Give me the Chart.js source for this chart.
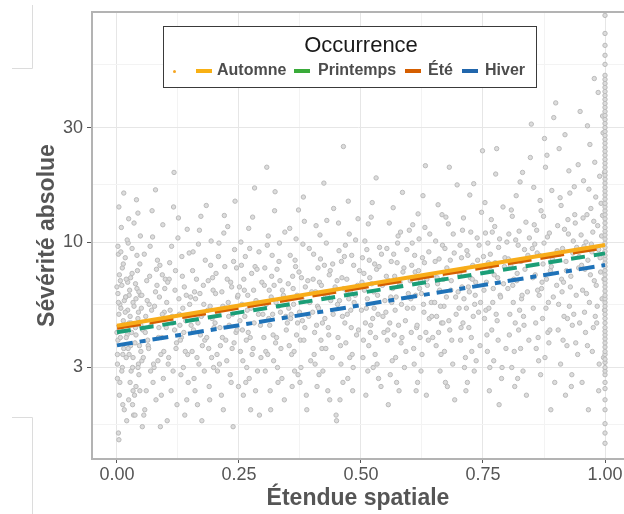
<!DOCTYPE html>
<html>
<head>
<meta charset="utf-8">
<script src="https://cdn.jsdelivr.net/npm/chart.js@4.4.1/dist/chart.umd.min.js"></script>
<style>
  html, body { margin: 0; padding: 0; background: #fff; }
  #wrap { position: relative; width: 624px; height: 514px; overflow: hidden; font-family: "Liberation Sans", Arial, sans-serif; }
  #graphe { position: absolute; left: 0; top: 0; }
  .legende { position: absolute; left: 163px; top: 26px; width: 372px; height: 60px; border: 1.5px solid #3a3a3a; background: #fff; }
  .legende .titre { position: absolute; left: 0; width: 394px; top: 5px; text-align: center; font-size: 22px; color: #1a1a1a; }
  .legende .cle { position: absolute; top: 42px; width: 16px; height: 4px; }
  .legende .nom { position: absolute; top: 34px; font-size: 16px; font-weight: bold; color: #4d4d4d; white-space: nowrap; }
  .legende .point { position: absolute; left: 9px; top: 43px; width: 3px; height: 3px; border-radius: 50%; background: #f5a623; }
</style>
</head>
<body>
<div id="wrap">
  <canvas id="graphe" width="624" height="514"></canvas>
  <div class="legende" id="legende">
    <div class="titre">Occurrence</div>
    <div class="point"></div>
  </div>
</div>
<script>
// --- DONNÉES ---
const saisons = ['Automne', 'Été', 'Printemps', 'Hiver'];
const severiteDebut = [4.48, 4.41, 4.21, 3.71];   // à étendue = 0
const severiteFin = [9.72, 9.55, 8.97, 8.02];     // à étendue = 1
const couleursLignes = ['#f8ad1a', '#d55e00', '#1b9e77', '#1f72b8'];
const couleursLegende = ['#f8b014', '#d55e00', '#3aab3a', '#2166ac'];

const ticksMajeursX = [0, 0.25, 0.5, 0.75, 1];
const ticksMineursX = [0.125, 0.375, 0.625, 0.875];
const ticksMajeursY = [3, 10, 30];
const ticksMineursY = [1.73, 5.48, 17.3, 54.8];

// nuage de points (étendue, sévérité)
const pointsNuage = [
  [0.000,4.2],[0.002,6.1],[0.001,3.1],[0.003,1.6],[0.008,5.3],[0.011,7.8],[0.006,2.6],[0.013,4.7],[0.009,11.5],[0.014,3.6],
  [0.018,5.9],[0.021,4.1],[0.017,8.6],[0.024,2.2],[0.022,6.8],[0.019,3.3],[0.027,4.9],[0.031,9.4],[0.029,2.9],[0.033,5.6],
  [0.028,7.1],[0.034,1.9],[0.038,4.4],[0.041,6.4],[0.037,3.8],[0.043,13.2],[0.039,2.5],[0.044,5.1],[0.047,8.1],[0.049,3.5],
  [0.046,4.6],[0.048,6.0],[0.045,2.8],[0.004,5.0],[0.005,7.3],[0.002,3.9],[0.012,2.1],[0.010,6.6],[0.023,9.9],[0.016,4.5],
  [0.032,3.0],[0.026,6.3],[0.042,7.6],[0.036,2.3],[0.050,5.3],[0.048,10.6],[0.001,2.7],[0.007,4.0],[0.020,1.8],[0.030,4.2],
  [0.040,15.0],[0.051,3.2],[0.003,8.9],[0.015,5.7],[0.025,3.4],[0.035,12.0],[0.043,4.8],[0.052,1.7],[0.019,7.0],[0.033,2.4],
  [0.006,5.5],[0.012,3.4],[0.022,5.2],[0.028,3.7],[0.039,5.8],[0.004,1.5],[0.014,16.0],[0.025,4.6],[0.044,3.1],[0.008,9.1],
  [0.001,3.4],[0.003,5.6],[0.005,2.3],[0.007,6.9],[0.009,4.4],[0.011,3.0],[0.013,8.1],[0.015,2.0],[0.017,5.1],[0.019,4.0],
  [0.021,10.2],[0.023,3.6],[0.025,6.0],[0.027,2.6],[0.029,4.6],[0.031,7.4],[0.033,3.3],[0.035,5.4],[0.037,1.9],[0.039,4.1],
  [0.041,8.8],[0.043,3.0],[0.045,6.2],[0.047,2.4],[0.049,4.5],[0.000,6.5],[0.002,9.6],[0.006,4.3],[0.010,2.9],[0.018,5.9],
  [0.024,12.5],[0.032,2.1],[0.038,6.7],[0.046,3.7],[0.004,14.0],
  [0.053,4.3],[0.057,2.0],[0.061,6.9],[0.064,3.7],[0.068,9.6],[0.071,5.2],[0.074,2.6],[0.078,4.7],[0.081,7.7],[0.084,3.2],
  [0.087,5.9],[0.089,1.7],[0.092,4.0],[0.094,11.8],[0.096,3.5],[0.098,6.4],[0.066,5.5],[0.076,3.0],[0.083,8.4],[0.091,2.3],
  [0.059,4.9],[0.097,5.1],[0.072,13.5],[0.086,4.4],[0.063,3.9],[0.079,6.2],[0.093,7.3],[0.069,2.9],
  [0.051,6.0],[0.054,3.3],[0.056,8.9],[0.058,4.2],[0.060,2.4],[0.062,5.7],[0.065,3.6],[0.067,7.2],[0.070,4.5],[0.073,10.5],
  [0.075,3.1],[0.077,5.4],[0.080,2.2],[0.082,6.6],[0.085,4.0],[0.088,8.0],[0.090,3.4],[0.093,5.0],[0.095,2.7],[0.099,7.0],
  [0.055,1.9],[0.079,16.5],
  [0.102,5.6],[0.105,3.1],[0.108,8.2],[0.111,2.4],[0.114,4.6],[0.117,19.5],[0.119,6.3],[0.122,3.8],[0.125,10.4],[0.128,5.0],
  [0.131,2.8],[0.134,7.2],[0.137,4.2],[0.139,1.9],[0.142,6.0],[0.145,3.4],[0.148,9.0],[0.113,4.9],[0.126,12.6],[0.135,5.3],
  [0.143,2.2],[0.107,7.0],[0.121,3.6],[0.132,4.0],
  [0.101,4.4],[0.104,6.8],[0.106,3.3],[0.109,5.2],[0.112,9.6],[0.115,2.9],[0.118,4.3],[0.120,7.6],[0.123,2.1],[0.127,5.8],
  [0.130,3.9],[0.133,8.7],[0.136,3.0],[0.138,6.5],[0.141,4.7],[0.144,11.3],[0.146,2.6],[0.149,5.5],[0.103,1.8],[0.116,14.0],
  [0.129,4.5],[0.140,3.5],
  [0.152,4.5],[0.155,7.6],[0.158,2.7],[0.161,5.8],[0.164,3.3],[0.167,9.8],[0.171,4.1],[0.174,1.8],[0.177,6.6],[0.180,3.9],
  [0.183,14.2],[0.186,5.2],[0.189,2.5],[0.192,8.0],[0.195,4.8],[0.198,3.0],[0.159,6.2],[0.169,11.2],[0.178,5.5],[0.188,3.6],
  [0.196,7.1],[0.165,2.1],[0.173,4.9],
  [0.151,5.9],[0.154,3.5],[0.156,9.1],[0.157,4.3],[0.160,2.4],[0.163,7.0],[0.166,4.6],[0.168,3.1],[0.170,6.1],[0.172,12.8],
  [0.175,3.7],[0.176,5.0],[0.179,2.9],[0.181,8.4],[0.184,4.0],[0.187,6.9],[0.190,2.2],[0.191,5.4],[0.193,10.1],[0.194,3.3],
  [0.197,6.3],[0.199,4.4],
  [0.202,6.1],[0.205,3.4],[0.208,8.7],[0.211,4.4],[0.214,2.3],[0.217,5.4],[0.220,12.9],[0.223,3.9],[0.226,7.0],[0.229,4.9],
  [0.232,2.8],[0.235,6.5],[0.238,1.7],[0.241,9.3],[0.244,4.2],[0.247,5.9],[0.210,3.1],[0.219,10.9],[0.228,5.6],[0.236,3.6],
  [0.245,7.8],[0.249,2.5],
  [0.201,4.6],[0.203,7.4],[0.206,2.9],[0.207,5.1],[0.209,9.9],[0.212,3.7],[0.215,6.2],[0.216,4.0],[0.218,2.0],[0.221,7.9],
  [0.224,5.3],[0.225,3.2],[0.227,11.6],[0.230,4.5],[0.233,6.8],[0.234,2.6],[0.237,5.0],[0.239,8.3],[0.240,3.8],[0.242,14.8],
  [0.246,4.3],[0.248,6.0],
  [0.252,4.7],[0.255,8.0],[0.258,3.2],[0.261,6.3],[0.264,2.6],[0.267,5.2],[0.270,11.4],[0.273,4.0],[0.276,7.4],[0.279,3.6],
  [0.282,16.8],[0.285,5.7],[0.288,2.9],[0.291,9.1],[0.294,4.5],[0.297,6.8],[0.256,5.5],[0.265,3.9],[0.274,2.0],[0.283,7.9],
  [0.292,1.9],[0.299,5.0],
  [0.251,6.5],[0.253,3.5],[0.254,10.0],[0.257,4.3],[0.259,2.3],[0.260,7.0],[0.262,4.9],[0.263,8.7],[0.266,3.0],[0.268,6.0],
  [0.269,4.2],[0.271,2.7],[0.272,9.4],[0.275,5.3],[0.277,3.4],[0.278,12.7],[0.280,6.3],[0.281,4.6],[0.284,2.4],[0.287,7.7],
  [0.290,5.0],[0.295,3.3],
  [0.302,6.6],[0.305,3.5],[0.308,9.7],[0.311,4.8],[0.314,2.4],[0.317,7.2],[0.320,4.1],[0.323,13.5],[0.326,5.6],[0.329,3.0],
  [0.332,8.3],[0.335,5.1],[0.338,2.7],[0.341,6.0],[0.344,11.0],[0.347,4.3],[0.307,20.5],[0.316,5.9],[0.325,3.8],[0.334,6.9],
  [0.343,2.2],[0.349,4.6],
  [0.301,4.0],[0.303,7.8],[0.304,2.9],[0.306,5.5],[0.309,3.4],[0.310,10.6],[0.312,6.3],[0.313,4.5],[0.315,2.0],[0.318,8.8],
  [0.319,5.0],[0.321,3.2],[0.322,6.6],[0.324,16.2],[0.327,4.0],[0.328,7.7],[0.330,2.6],[0.331,5.4],[0.333,9.9],[0.336,3.6],
  [0.339,6.3],[0.346,4.9],
  [0.352,5.3],[0.355,8.8],[0.358,3.4],[0.361,6.4],[0.364,2.9],[0.367,10.3],[0.370,4.6],[0.373,7.5],[0.376,3.9],[0.379,5.8],
  [0.382,15.4],[0.385,4.4],[0.388,2.3],[0.391,6.9],[0.394,9.4],[0.397,3.2],[0.357,5.0],[0.366,7.9],[0.375,2.6],[0.384,12.2],
  [0.393,4.9],[0.399,6.2],
  [0.351,6.7],[0.353,3.7],[0.354,11.4],[0.356,4.8],[0.359,2.5],[0.360,7.2],[0.362,5.5],[0.363,3.5],[0.365,8.4],[0.368,4.1],
  [0.369,6.0],[0.371,2.8],[0.372,13.6],[0.374,5.1],[0.377,3.0],[0.378,7.1],[0.380,4.7],[0.381,9.8],[0.383,3.9],[0.386,6.5],
  [0.389,2.0],[0.395,5.6],
  [0.402,7.0],[0.405,4.2],[0.408,11.7],[0.411,5.4],[0.414,2.8],[0.417,8.5],[0.420,3.6],[0.423,6.1],[0.426,4.8],[0.429,9.9],
  [0.432,2.4],[0.435,7.3],[0.438,5.7],[0.441,3.3],[0.444,13.8],[0.447,6.5],[0.406,3.1],[0.415,6.8],[0.424,17.6],[0.433,4.4],
  [0.442,8.1],[0.449,1.9],
  [0.401,5.1],[0.403,8.9],[0.404,3.4],[0.407,6.2],[0.409,4.5],[0.410,2.5],[0.412,7.8],[0.413,5.3],[0.416,10.7],[0.418,3.9],
  [0.419,6.6],[0.421,4.6],[0.422,2.9],[0.425,8.0],[0.427,5.9],[0.428,3.6],[0.430,12.3],[0.431,6.0],[0.434,4.1],[0.436,2.2],
  [0.437,7.6],[0.443,5.0],
  [0.452,5.5],[0.455,9.2],[0.458,3.7],[0.461,7.1],[0.464,25.0],[0.467,4.6],[0.470,6.3],[0.473,2.7],[0.476,10.8],[0.479,5.2],
  [0.482,3.4],[0.485,8.0],[0.488,6.0],[0.491,4.1],[0.494,12.5],[0.497,7.6],[0.457,2.2],[0.466,8.7],[0.475,5.8],[0.484,3.0],
  [0.493,6.6],[0.450,1.8],
  [0.451,6.9],[0.453,4.0],[0.454,12.0],[0.456,5.7],[0.459,3.1],[0.460,8.3],[0.462,4.9],[0.463,2.6],[0.465,6.4],[0.468,9.7],
  [0.469,3.8],[0.471,7.0],[0.472,5.0],[0.474,14.8],[0.477,3.3],[0.478,6.2],[0.480,4.4],[0.481,8.8],[0.483,2.4],[0.486,5.6],
  [0.489,10.2],[0.495,4.3],
  [0.502,6.8],[0.505,3.9],[0.508,10.1],[0.511,5.3],[0.514,2.9],[0.517,8.4],[0.520,4.5],[0.523,14.6],[0.526,6.2],[0.529,3.4],
  [0.532,7.7],[0.535,5.0],[0.538,9.5],[0.541,2.5],[0.544,6.6],[0.547,4.2],[0.506,7.4],[0.515,11.9],[0.524,4.8],[0.533,3.1],
  [0.542,8.9],[0.549,5.7],
  [0.501,5.2],[0.503,8.6],[0.504,3.3],[0.507,6.3],[0.509,4.6],[0.510,2.3],[0.512,9.3],[0.513,5.8],[0.516,3.7],[0.518,7.1],
  [0.519,4.2],[0.521,12.7],[0.522,6.7],[0.525,3.0],[0.527,5.3],[0.528,8.1],[0.530,4.0],[0.531,18.5],[0.534,6.0],[0.536,2.7],
  [0.537,7.9],[0.545,4.9],
  [0.552,7.2],[0.555,4.3],[0.558,12.0],[0.561,5.9],[0.564,3.2],[0.567,8.9],[0.570,5.2],[0.573,2.6],[0.576,10.6],[0.579,6.7],
  [0.582,3.8],[0.585,16.1],[0.588,7.8],[0.591,4.7],[0.594,9.3],[0.597,6.1],[0.556,2.1],[0.565,6.4],[0.574,8.2],[0.583,5.5],
  [0.592,3.5],[0.599,11.2],
  [0.551,5.1],[0.553,9.4],[0.554,3.9],[0.557,6.9],[0.559,4.6],[0.560,2.8],[0.562,8.3],[0.563,5.6],[0.566,13.9],[0.568,4.1],
  [0.569,7.2],[0.571,3.3],[0.572,5.9],[0.575,9.9],[0.577,4.5],[0.578,2.4],[0.580,6.8],[0.581,11.0],[0.584,4.0],[0.586,7.5],
  [0.589,3.0],[0.595,5.3],
  [0.602,5.8],[0.605,9.9],[0.608,3.6],[0.611,7.5],[0.614,4.4],[0.617,13.1],[0.620,6.4],[0.623,2.9],[0.626,8.6],[0.629,5.1],
  [0.632,20.8],[0.635,7.0],[0.638,3.9],[0.641,10.8],[0.644,5.6],[0.647,4.0],[0.604,8.0],[0.613,2.4],[0.622,6.9],[0.631,11.5],
  [0.640,4.8],[0.649,7.3],
  [0.601,6.9],[0.603,4.2],[0.606,11.8],[0.607,5.3],[0.609,3.1],[0.610,8.8],[0.612,6.0],[0.615,4.5],[0.616,2.6],[0.618,7.6],
  [0.619,10.3],[0.621,4.0],[0.624,6.1],[0.625,3.4],[0.627,15.6],[0.628,5.5],[0.630,8.2],[0.633,4.2],[0.634,2.3],[0.636,6.6],
  [0.639,9.1],[0.645,4.9],
  [0.652,8.3],[0.655,4.9],[0.658,14.3],[0.661,6.3],[0.664,3.4],[0.667,9.7],[0.670,5.4],[0.673,2.6],[0.676,7.8],[0.679,11.9],
  [0.682,4.3],[0.685,6.9],[0.688,3.1],[0.691,9.0],[0.694,5.9],[0.697,17.3],[0.656,7.1],[0.665,4.6],[0.674,12.7],[0.683,8.4],
  [0.692,2.2],[0.699,6.2],
  [0.651,5.6],[0.653,10.1],[0.654,3.7],[0.657,6.7],[0.659,4.2],[0.660,8.5],[0.662,2.9],[0.663,5.4],[0.666,13.0],[0.668,4.6],
  [0.669,7.0],[0.671,3.5],[0.672,9.4],[0.675,5.9],[0.677,2.5],[0.678,7.5],[0.680,4.7],[0.681,20.5],[0.684,6.3],[0.686,3.9],
  [0.689,10.8],[0.695,5.0],
  [0.702,7.4],[0.705,4.4],[0.708,11.2],[0.711,5.8],[0.714,3.3],[0.717,9.2],[0.720,6.5],[0.723,15.7],[0.726,4.0],[0.729,8.0],
  [0.732,2.9],[0.735,6.8],[0.738,10.4],[0.741,5.1],[0.744,3.7],[0.747,13.3],[0.706,8.6],[0.715,2.4],[0.724,7.1],[0.733,5.5],
  [0.742,9.7],[0.749,24.0],
  [0.701,5.3],[0.703,9.7],[0.704,3.9],[0.707,6.5],[0.709,4.6],[0.710,12.6],[0.712,3.0],[0.713,7.7],[0.716,5.3],[0.718,2.6],
  [0.719,8.8],[0.721,4.4],[0.722,6.2],[0.725,11.0],[0.727,3.5],[0.728,7.0],[0.730,4.9],[0.731,17.5],[0.734,6.0],[0.736,3.2],
  [0.739,8.4],[0.745,5.6],
  [0.752,6.3],[0.755,10.9],[0.758,4.1],[0.761,8.2],[0.764,3.0],[0.767,12.4],[0.770,5.6],[0.773,7.3],[0.776,19.2],[0.779,4.7],
  [0.782,9.5],[0.785,6.0],[0.788,2.7],[0.791,14.0],[0.794,7.9],[0.797,3.6],[0.756,5.2],[0.765,8.9],[0.774,11.6],[0.783,2.1],
  [0.792,6.7],[0.799,10.0],
  [0.751,8.7],[0.753,4.8],[0.754,14.6],[0.757,6.8],[0.759,3.5],[0.760,9.9],[0.762,5.3],[0.763,2.4],[0.766,7.6],[0.768,4.3],
  [0.769,11.0],[0.771,6.4],[0.772,3.2],[0.775,8.2],[0.777,5.0],[0.778,24.5],[0.780,7.1],[0.781,3.9],[0.784,10.3],[0.786,5.9],
  [0.789,3.0],[0.795,8.6],
  [0.802,8.5],[0.805,5.0],[0.808,13.6],[0.811,6.6],[0.814,3.5],[0.817,10.2],[0.820,7.4],[0.823,4.3],[0.826,17.8],[0.829,5.8],
  [0.832,2.9],[0.835,9.3],[0.838,12.1],[0.841,6.2],[0.844,3.9],[0.847,22.5],[0.806,7.9],[0.815,2.5],[0.824,11.1],[0.833,4.9],
  [0.842,8.8],[0.849,31.0],
  [0.801,6.4],[0.803,10.8],[0.804,4.1],[0.807,8.0],[0.809,3.0],[0.810,12.8],[0.812,5.6],[0.813,7.0],[0.816,4.6],[0.818,15.6],
  [0.819,6.9],[0.821,2.7],[0.822,9.7],[0.825,5.2],[0.827,3.6],[0.828,8.3],[0.830,6.0],[0.831,19.5],[0.834,4.5],[0.836,7.7],
  [0.839,2.3],[0.845,10.4],
  [0.852,7.1],[0.855,11.8],[0.858,4.6],[0.861,9.0],[0.864,3.2],[0.867,14.9],[0.870,6.4],[0.873,8.1],[0.876,27.0],[0.879,5.3],
  [0.882,10.5],[0.885,3.8],[0.888,7.6],[0.891,16.4],[0.894,5.9],[0.897,2.6],[0.856,9.8],[0.865,6.0],[0.874,12.8],[0.883,4.2],
  [0.892,8.5],[0.899,38.0],[0.878,20.5],[0.889,2.0],
  [0.851,9.4],[0.853,5.3],[0.854,16.9],[0.857,7.3],[0.859,3.6],[0.860,11.2],[0.862,6.3],[0.863,4.0],[0.866,8.8],[0.868,2.8],
  [0.869,13.5],[0.871,6.8],[0.872,4.8],[0.875,9.9],[0.877,3.3],[0.880,7.0],[0.881,23.0],[0.884,5.6],[0.886,10.9],[0.887,4.3],
  [0.890,7.9],[0.895,33.0],
  [0.902,9.2],[0.905,5.5],[0.908,15.3],[0.911,7.0],[0.914,3.9],[0.917,11.3],[0.920,8.3],[0.923,4.8],[0.926,19.8],[0.929,6.5],
  [0.932,2.8],[0.935,10.1],[0.938,13.0],[0.941,6.0],[0.944,3.4],[0.947,8.7],[0.906,24.5],[0.915,6.8],[0.924,12.4],[0.933,4.5],
  [0.942,9.5],[0.949,35.0],[0.919,2.3],[0.937,17.0],
  [0.901,6.6],[0.903,11.7],[0.904,4.3],[0.907,8.9],[0.909,3.1],[0.910,14.2],[0.912,6.2],[0.913,9.4],[0.916,4.9],[0.918,28.0],
  [0.921,7.6],[0.922,3.7],[0.925,10.8],[0.927,5.4],[0.928,16.0],[0.930,7.2],[0.931,2.5],[0.934,9.0],[0.936,5.0],[0.939,12.0],
  [0.940,3.8],[0.945,21.0],[0.946,7.8],[0.948,4.6],
  [0.952,8.0],[0.955,12.6],[0.958,5.1],[0.961,10.0],[0.964,3.7],[0.967,16.6],[0.970,7.3],[0.973,9.1],[0.976,4.4],[0.979,21.5],
  [0.982,6.6],[0.985,11.7],[0.988,3.1],[0.990,8.6],[0.992,14.5],[0.994,5.8],[0.996,28.5],[0.998,7.0],[0.953,2.6],[0.962,6.1],
  [0.971,13.8],[0.980,4.9],[0.989,18.8],[0.957,9.6],[0.966,2.0],[0.975,11.0],[0.984,5.4],[0.993,10.6],[0.997,3.3],[0.986,42.0],
  [0.951,10.7],[0.954,6.3],[0.956,18.0],[0.959,7.7],[0.960,4.2],[0.963,13.0],[0.965,8.4],[0.968,5.6],[0.969,25.5],[0.972,9.8],
  [0.974,3.5],[0.977,12.2],[0.978,6.9],[0.981,15.4],[0.983,4.6],[0.987,9.3],[0.991,7.5],[0.995,12.9],[0.999,5.2],[0.999,19.5],
  [0.995,33.5],[0.987,2.4],[0.978,48.0],[0.964,30.5]
];

// colonne dense à étendue = 1
const colonneY = [
  1.45,1.6,1.75,2.0,2.2,2.45,2.6,2.8,2.9,3.0,3.15,3.25,3.4,3.5,3.65,3.8,3.95,4.1,4.25,4.4,4.6,4.8,5.0,5.2,5.4,5.6,5.8,
  6.0,6.25,6.5,6.75,7.0,7.3,7.6,7.9,8.2,8.5,8.8,9.15,9.5,9.9,10.3,10.7,11.1,11.5,12.0,12.5,13.0,13.5,14.0,14.5,15.1,
  15.7,16.3,16.9,17.6,18.3,19.0,19.7,20.5,21.3,22.1,23.0,23.9,24.8,25.8,26.8,27.8,28.9,30.0,31.2,32.4,33.7,35.0,36.4,
  37.8,39.3,40.8,42.4,44.1,45.8,47.6,49.5,55,60,66,74,88
];

// --- LÉGENDE HTML ---
const posCles = [32, 241, 130, 298];
const posNoms = [53, 264, 154, 321];
const legende = document.getElementById('legende');
saisons.forEach((s, i) => {
  const cle = document.createElement('div');
  cle.className = 'cle';
  cle.style.left = posCles[i] + 'px';
  cle.style.background = couleursLegende[i];
  legende.appendChild(cle);
  const nom = document.createElement('div');
  nom.className = 'nom';
  nom.style.left = posNoms[i] + 'px';
  nom.innerText = s;
  legende.appendChild(nom);
});

// --- CADRE + petits traits ---
const cadre = {
  id: 'cadre',
  afterDraw(chart) {
    const { ctx, chartArea: a } = chart;
    ctx.save();
    ctx.strokeStyle = '#b3b3b3';
    ctx.lineWidth = 2;
    ctx.beginPath();
    ctx.moveTo(a.left - 1, a.top);
    ctx.lineTo(a.right, a.top);
    ctx.stroke();
    ctx.strokeStyle = '#dcdcdc';
    ctx.lineWidth = 1;
    ctx.beginPath();
    ctx.moveTo(32.5, 5); ctx.lineTo(32.5, 68.5); ctx.lineTo(12, 68.5);
    ctx.moveTo(12, 417.5); ctx.lineTo(32.5, 417.5); ctx.lineTo(32.5, 514);
    ctx.stroke();
    ctx.restore();
  }
};

const lignes = saisons.map((s, i) => ({
  label: s,
  data: [{ x: 0, y: severiteDebut[i] }, { x: 1, y: severiteFin[i] }],
  showLine: true,
  pointRadius: 0,
  borderColor: couleursLignes[i],
  borderWidth: [4, 5, 4, 4][i],
  borderDash: [[], [24, 9], [14, 9], [16, 7, 6, 7]][i],
  borderCapStyle: 'butt',
  order: i
}));

const nuage = pointsNuage.map(p => ({ x: p[0], y: p[1] }))
  .concat(colonneY.map(v => ({ x: 1, y: v })));

new Chart(document.getElementById('graphe'), {
  type: 'scatter',
  data: {
    datasets: lignes.concat([{
      label: 'points',
      data: nuage,
      pointRadius: 2.2,
      backgroundColor: '#dcdcdc',
      borderColor: '#bababa',
      borderWidth: 1,
      order: 10
    }])
  },
  options: {
    responsive: false,
    animation: false,
    devicePixelRatio: 1,
    layout: { autoPadding: false, padding: { top: 12, right: 0, bottom: 0, left: 0 } },
    plugins: { legend: { display: false }, tooltip: { enabled: false } },
    scales: {
      x: {
        type: 'linear',
        min: -0.0511,
        max: 1.0389,
        afterBuildTicks: scale => {
          scale.ticks = ticksMajeursX.concat(ticksMineursX).sort((a, b) => a - b).map(v => ({ value: v }));
        },
        afterFit: scale => {
          scale.height = 55;
          scale.paddingLeft = 0;
          scale.paddingRight = 0;
        },
        ticks: {
          autoSkip: false,
          maxRotation: 0,
          padding: 1,
          color: '#555',
          font: { family: 'Liberation Sans', size: 18 },
          callback: v => ticksMajeursX.includes(v) ? v.toFixed(2) : ''
        },
        grid: {
          color: c => c.tick && ticksMajeursX.includes(c.tick.value) ? '#e6e6e6' : '#f3f3f3',
          tickColor: c => c.tick && ticksMajeursX.includes(c.tick.value) ? '#555' : 'rgba(0,0,0,0)',
          tickLength: 4,
          lineWidth: 1
        },
        border: { color: '#b3b3b3', width: 2 },
        title: {
          display: true,
          text: 'Étendue spatiale',
          color: '#555',
          font: { family: 'Liberation Sans', size: 23, weight: 'bold' },
          padding: { top: 0, bottom: 2 }
        }
      },
      y: {
        type: 'logarithmic',
        min: 1.247,
        max: 90.9,
        afterBuildTicks: scale => {
          scale.ticks = ticksMajeursY.concat(ticksMineursY).sort((a, b) => a - b).map(v => ({ value: v }));
        },
        afterFit: scale => {
          scale.width = 92;
          scale.paddingTop = 0;
          scale.paddingBottom = 0;
        },
        ticks: {
          autoSkip: false,
          padding: 4,
          color: '#555',
          font: { family: 'Liberation Sans', size: 18 },
          callback: v => ticksMajeursY.includes(v) ? String(v) : ''
        },
        grid: {
          color: c => c.tick && ticksMajeursY.includes(c.tick.value) ? '#e6e6e6' : '#f3f3f3',
          tickColor: c => c.tick && ticksMajeursY.includes(c.tick.value) ? '#555' : 'rgba(0,0,0,0)',
          tickLength: 5,
          lineWidth: 1
        },
        border: { color: '#b3b3b3', width: 2 },
        title: {
          display: true,
          text: 'Sévérité absolue',
          color: '#555',
          font: { family: 'Liberation Sans', size: 23, weight: 'bold' },
          padding: { top: 34, bottom: 0 }
        }
      }
    }
  },
  plugins: [cadre]
});
</script>
</body>
</html>
